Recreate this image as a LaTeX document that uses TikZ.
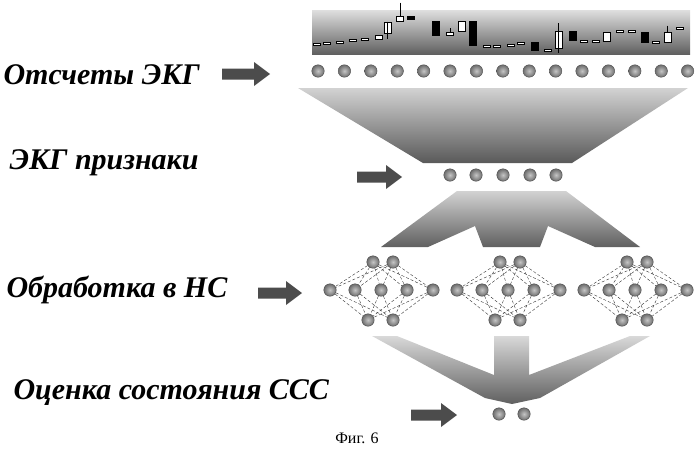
\documentclass[tikz,border=0pt]{standalone}
\usepackage{fontspec}
\setmainfont{Liberation Serif}
\begin{document}
\begin{tikzpicture}[x=1pt,y=-1pt,
  dot/.style={circle,minimum size=12.5pt,inner sep=0pt,draw=gray!60!black,inner color=gray!45,outer color=gray!85!black},
  lbl/.style={anchor=west,font=\fontsize{30}{34}\selectfont\bfseries\itshape},
  barrow/.style={fill=gray!60!black,draw=none},
  net/.style={densely dashed,thin,black!80}]
\useasboundingbox (0,0) rectangle (700,453);
% top candle bar
\shade[top color=gray!25,bottom color=gray!75!black] (312,10) rectangle (690,54);
\foreach \zx/\a/\b/\c in {205/105/118/white,233/68/100/white,270/50/65/white,303/50/58/black,378/63/107/black,420/97/107/white,456/63/95/white,488/63/137/black,675/127/150/black,745/95/145/white,788/95/120/black,890/98/125/white,1003/97/127/black,1072/97/127/white}
  \draw[fill=\c] ({\zx/3+310-3.5},{\a/3}) rectangle ({\zx/3+310+3.5},{\b/3});
\foreach \zx/\a/\b in {233/65/118,270/8/50,420/85/97,745/70/160,1072/77/97}
  \draw ({\zx/3+310},{\a/3}) -- ({\zx/3+310},{\b/3});
\foreach \zx/\zy in {20/133,50/130,88/128,128/122,165/118,530/140,560/140,602/137,633/130,714/150,820/123,857/125,930/95,965/95,1038/128,1108/85}
  \draw[fill=white] ({\zx/3+310-3.5},{\zy/3-1}) rectangle ({\zx/3+310+3.5},{\zy/3+1});
% input dots
\foreach \i in {0,...,14} \node[dot] (in\i) at ({318+\i*26.4},71) {};
% trapezoid 1
\shade[top color=gray!35,bottom color=gray!70!black] (298,88) -- (688,88) -- (572,163) -- (423,163) -- cycle;
% feature dots
\foreach \x [count=\i] in {450,476,503,530,556} \node[dot] (f\i) at (\x,175) {};
% shape 2
\shade[top color=gray!35,bottom color=gray!75!black] (457,191) -- (566,191) -- (640,247) -- (595,247) -- (548,226) -- (540,247) -- (483,247) -- (475,226) -- (428,247) -- (381,247) -- cycle;
% networks
\foreach \o/\n in {0/a,127/b,254/c}{
  \foreach \x [count=\i] in {373,393} \node[dot] (\n t\i) at (\x+\o,262) {};
  \foreach \x [count=\i] in {330,355,381,407,433} \node[dot] (\n m\i) at (\x+\o,290) {};
  \foreach \x [count=\i] in {368,393} \node[dot] (\n b\i) at (\x+\o,320) {};
  \foreach \i in {1,2} \foreach \j in {1,...,5} {
    \draw[net] (\n t\i) -- (\n m\j);
    \draw[net] (\n m\j) -- (\n b\i);}
}
% shape 3
\shade[top color=gray!30,bottom color=gray!75!black] (372,336) -- (397,336) -- (494,375) -- (494,336) -- (529,336) -- (529,375) -- (630,336) -- (650,336) -- (540,398) -- (512,404) -- (485,398) -- cycle;
% output dots
\node[dot] (o1) at (499,414) {};
\node[dot] (o2) at (524,414) {};
% arrows
\foreach \x/\y/\w in {222/74/48,357/177/45,258/293/44,411/415/46}
  \fill[barrow] (\x,\y-5.5) -- (\x+\w-16,\y-5.5) -- (\x+\w-16,\y-12) -- (\x+\w,\y) -- (\x+\w-16,\y+12) -- (\x+\w-16,\y+5.5) -- (\x,\y+5.5) -- cycle;
% labels
\node[lbl] (l1) at (0,75) {Отсчеты ЭКГ};
\node[lbl] (l2) at (6,163) {ЭКГ признаки};
\node[lbl] (l3) at (3,290) {Обработка в НС};
\node[lbl] (l4) at (10,393) {Оценка состояния ССС};
\node[font=\fontsize{16}{18}\selectfont] (cap) at (357,438) {Фиг. 6};
\end{tikzpicture}
\end{document}
